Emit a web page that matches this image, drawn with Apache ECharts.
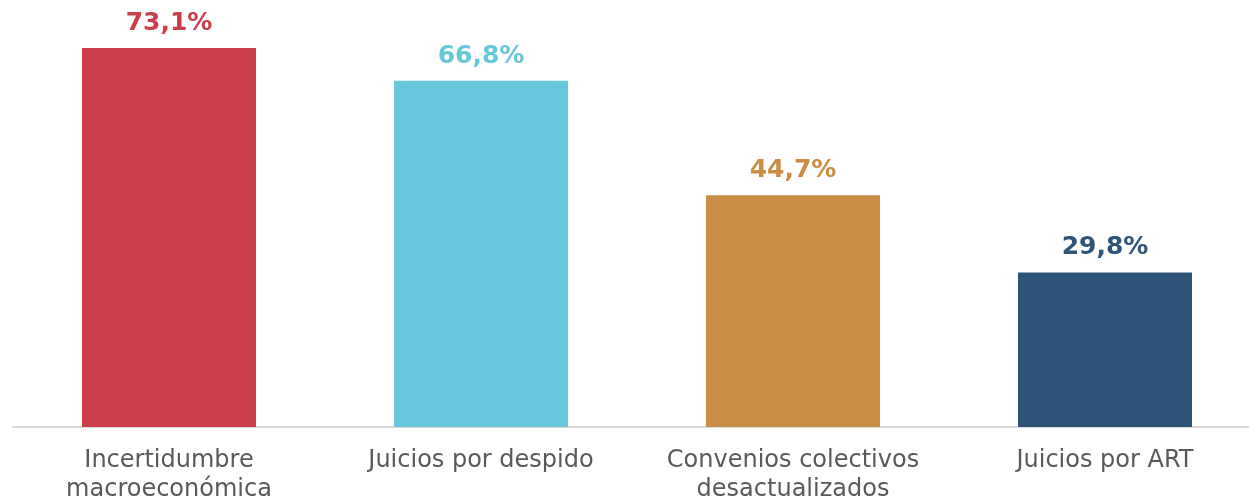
<!DOCTYPE html>
<html>
<head>
<meta charset="utf-8">
<script src="https://cdn.jsdelivr.net/npm/echarts@6/dist/echarts.min.js"></script>
<style>html,body{margin:0;padding:0;background:#fff;}#c{width:1249px;height:500px;}</style>
</head>
<body>
<div id="c"></div>
<script>
const categories = ['Incertidumbre\nmacroeconómica', 'Juicios por despido', 'Convenios colectivos\ndesactualizados', 'Juicios por ART'];
const values = [73.1, 66.8, 44.7, 29.8];
const colors = ['#CA3F49', '#68C8DB', '#C98D43', '#2E5478'];

const chart = echarts.init(document.getElementById('c'));
chart.setOption({
  animation: false,
  grid: { left: 13, right: -12, top: 48, bottom: 73, outerBoundsMode: 'none', containLabel: false },
  xAxis: {
    type: 'category',
    data: categories,
    axisLine: { lineStyle: { color: '#D9D9D9', width: 2 } },
    axisTick: { show: false },
    axisLabel: { color: '#595959', fontSize: 24, fontFamily: 'DejaVu Sans', lineHeight: 29, margin: 19, interval: 0 }
  },
  yAxis: { type: 'value', min: 0, max: 73.1, show: false, splitLine: { show: false } },
  series: [{
    type: 'bar',
    barWidth: 174,
    data: values.map((v, i) => ({ value: v, itemStyle: { color: colors[i] }, label: { color: colors[i] } })),
    label: {
      show: true,
      position: 'top',
      distance: 12,
      fontSize: 25,
      fontWeight: 'bold',
      fontFamily: 'DejaVu Sans',
      formatter: p => p.value.toFixed(1).replace('.', ',') + '%'
    }
  }]
});
</script>
</body>
</html>
